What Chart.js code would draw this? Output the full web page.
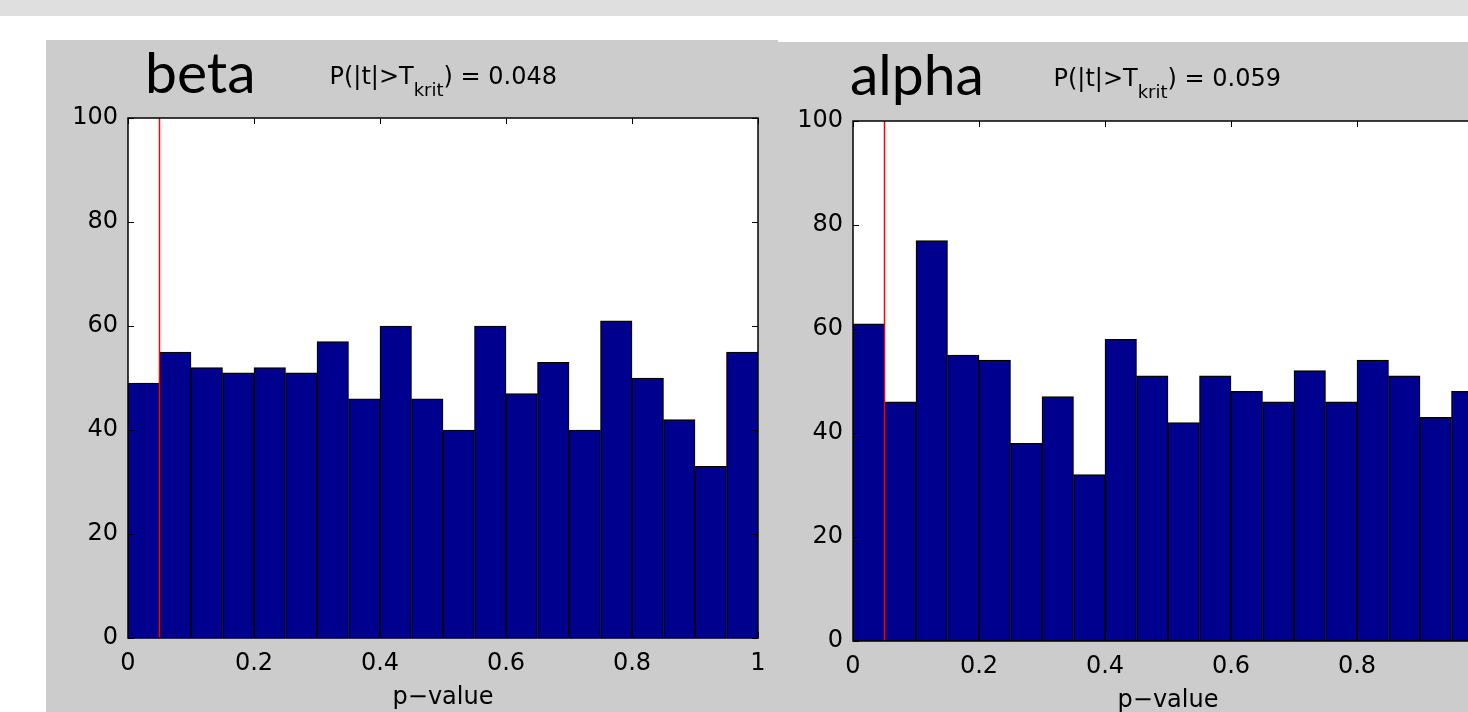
<!DOCTYPE html>
<html><head><meta charset="utf-8">
<script src="https://cdn.jsdelivr.net/npm/chart.js@4/dist/chart.umd.min.js"></script>
<style>
html,body{margin:0;padding:0;background:#fff;}
#page{position:relative;width:1468px;height:712px;overflow:hidden;background:#fff;}
.band{position:absolute;left:0;top:0;width:1468px;height:16px;background:#dfdfdf;}
.panel{position:absolute;background:#cccccc;}
canvas{position:absolute;}
svg{position:absolute;left:0;top:0;pointer-events:none;}
</style></head><body>
<div id="page">
 <div class="band"></div>
 <div class="panel" style="left:46px;top:40px;width:732px;height:672px"></div>
 <div class="panel" style="left:778px;top:42px;width:690px;height:670px"></div>
 <canvas id="c1" width="732" height="672" style="left:46px;top:40px"></canvas>
 <canvas id="c2" width="732" height="672" style="left:771px;top:43px"></canvas>
 <svg id="titles" width="1468" height="712" xmlns="http://www.w3.org/2000/svg"></svg>
</div>
<script>
// ---- data ----
const binCenters = [0.025,0.075,0.125,0.175,0.225,0.275,0.325,0.375,0.425,0.475,
                    0.525,0.575,0.625,0.675,0.725,0.775,0.825,0.875,0.925,0.975];
const betaCounts  = [49,55,52,51,52,51,57,46,60,46,40,60,47,53,40,61,50,42,33,55];
const alphaCounts = [61,46,77,55,54,38,47,32,58,51,42,51,48,46,52,46,54,51,43,48];
const xTickValues = [0,0.2,0.4,0.6,0.8,1];
const yTickValues = [0,20,40,60,80,100];
const critP = 0.05;
const panelNames = ['beta','alpha'];
const exceedProbs = ['0.048','0.059'];
const xAxisTitle = 'p\u2212value';

// ---- titles (real text, SVG) ----
const titlePos = [
  {nx:145, ny:93, px:329.5, py:83.5},
  {nx:850, ny:95, px:1053.5, py:85.5}
];
const svg = document.getElementById('titles');
let s = '';
panelNames.forEach((n,i)=>{
  const p = titlePos[i];
  s += `<text x="${p.nx}" y="${p.ny}" font-family="Lato" font-size="57" fill="#000">${n}</text>`;
  s += `<text x="${p.px}" y="${p.py}" font-family="DejaVu Sans" font-size="24" fill="#000">P(|t|&gt;T<tspan dy="12.5" font-size="18">krit</tspan><tspan dy="-12.5" font-size="24">) = ${exceedProbs[i]}</tspan></text>`;
});
svg.innerHTML = s;

// ---- chart ----
const boxPlugin = {
  id:'box',
  beforeDraw(chart){
    const a = chart.chartArea, ctx = chart.ctx;
    ctx.save(); ctx.fillStyle = '#fff';
    ctx.fillRect(a.left, a.top, a.right-a.left, a.bottom-a.top);
    ctx.restore();
  },
  afterDraw(chart){
    const a = chart.chartArea, ctx = chart.ctx;
    const xs = chart.scales.x, ys = chart.scales.y, L = 6;
    ctx.save();
    ctx.strokeStyle = '#000'; ctx.lineWidth = 1;
    const line = (x1,y1,x2,y2)=>{ctx.beginPath();ctx.moveTo(x1,y1);ctx.lineTo(x2,y2);ctx.stroke();};
    xTickValues.forEach(v=>{
      const px = Math.round(xs.getPixelForValue(v))+0.5;
      line(px,a.bottom,px,a.bottom-L); line(px,a.top,px,a.top+L);
    });
    yTickValues.forEach(v=>{
      const py = Math.round(ys.getPixelForValue(v))+0.5;
      line(a.left,py,a.left+L,py); line(a.right,py,a.right-L,py);
    });
    ctx.lineWidth = 1.5;
    ctx.strokeRect(a.left, a.top, a.right-a.left, a.bottom-a.top);
    ctx.restore();
  }
};

function makeChart(id, counts){
  const tickFont = {family:'DejaVu Sans', size:24};
  return new Chart(document.getElementById(id), {
    type:'bar',
    data:{datasets:[
      {type:'line', data:[{x:critP,y:0},{x:critP,y:100}], borderColor:'#ff0000', borderWidth:1.5,
       pointRadius:0, order:0},
      {type:'bar', data:counts.map((c,i)=>({x:binCenters[i], y:c})), backgroundColor:'#00008f',
       borderColor:'#000', borderWidth:1.2, borderSkipped:false, barPercentage:1, categoryPercentage:1, order:1}
    ]},
    options:{
      responsive:false, animation:false, devicePixelRatio:1,
      layout:{padding:{left:0, top:78, right:20, bottom:0}},
      plugins:{legend:{display:false}, tooltip:{enabled:false}},
      scales:{
        x:{type:'linear', min:0, max:1, offset:false,
           grid:{display:false, drawTicks:false}, border:{display:false},
           afterBuildTicks:sc=>{ sc.ticks = xTickValues.map(v=>({value:v})); },
           afterFit:sc=>{ sc.height = 74; },
           ticks:{padding:11, color:'#000', font:tickFont, maxRotation:0, autoSkip:false, callback:v=>String(v)},
           title:{display:true, text:xAxisTitle, color:'#000', font:tickFont, padding:{top:0,bottom:0}}},
        y:{type:'linear', min:0, max:100,
           grid:{display:false, drawTicks:false}, border:{display:false},
           afterBuildTicks:sc=>{ sc.ticks = yTickValues.map(v=>({value:v})); },
           afterFit:sc=>{ sc.width = 82; },
           ticks:{padding:10, color:'#000', font:tickFont, autoSkip:false, callback:v=>String(v)}}
      }
    },
    plugins:[boxPlugin]
  });
}
makeChart('c1', betaCounts);
makeChart('c2', alphaCounts);
</script>
</body></html>
